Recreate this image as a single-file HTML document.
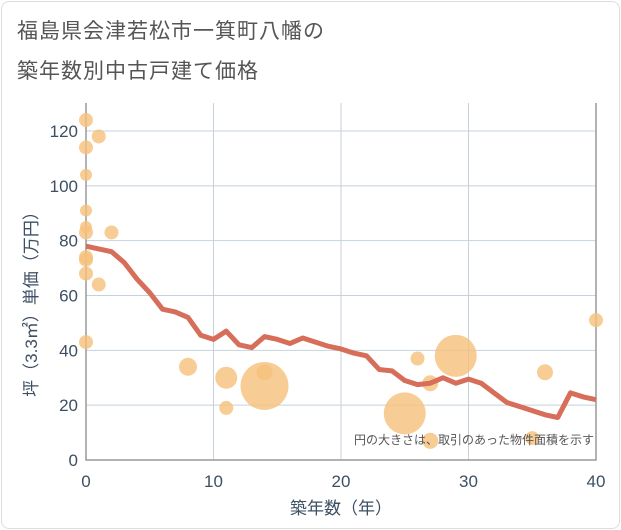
<!DOCTYPE html>
<html><head><meta charset="utf-8"><style>
body{margin:0;background:#fff;}
#c{position:relative;width:621px;height:530px;font-family:"Liberation Sans","Noto Sans CJK JP",sans-serif;}
.t{position:absolute;left:17px;font-size:21px;color:#555;letter-spacing:1px;}
</style></head><body>
<div id="c">
<div style="position:absolute;left:1px;top:1px;width:617px;height:526px;border:1px solid #ddd;border-radius:8px;"></div>
<div class="t" style="top:15px">福島県会津若松市一箕町八幡の</div>
<div class="t" style="top:55px">築年数別中古戸建て価格</div>
<svg id="s" width="621" height="530" style="position:absolute;left:0;top:0"></svg>
</div>
<script>
const xTicks=[0,10,20,30,40];
const yTicks=[0,20,40,60,80,100,120];
const ptX=[0,1,0,0,0,0,0,2,0,0,0,1,0,8,11,11,14,14,25,26,27,27,29,36,35,40];
const ptY=[124,118,114,104,91,85,83,83,74,73,68,64,43,34,30,19,27,32,17,37,28,7,38,32,8,51];
const ptR=[7,7,7,6,6,6,7,7,7,7,7,7,7,9,11,7,24,8,21,7,8,8,21,8,7,7];
const lineX=[0,1,2,3,4,5,6,7,8,9,10,11,12,13,14,15,16,17,18,19,20,21,22,23,24,25,26,27,28,29,30,31,32,33,34,35,36,37,38,39,40];
const lineY=[78,77,76,72,66,61,55,54,52,45.5,44,47,42,41,45,44,42.5,44.5,43,41.5,40.5,39,38,33,32.5,29,27.5,28,30,28,29.5,28,24.5,21,19.5,18,16.5,15.5,24.5,23,22];
const X0=86,X1=596,Y0=460,Y1=131;
const sx=v=>X0+(X1-X0)*v/40, sy=v=>Y0-(Y0-Y1)*v/120;
const s=document.getElementById('s'),NS='http://www.w3.org/2000/svg';
function mk(t,a,p){const e=document.createElementNS(NS,t);for(const k in a)e.setAttribute(k,a[k]);(p||s).appendChild(e);return e;}
const tc='#3d4f63';
xTicks.forEach(v=>{const g=mk('line',{x1:sx(v),x2:sx(v),y1:103,y2:Y0,stroke:'#c5d2de','stroke-width':1});


const t=mk('text',{x:sx(v),y:487,'text-anchor':'middle','font-size':17,fill:tc});t.textContent=v;

});
yTicks.forEach(v=>{const g=mk('line',{x1:X0,x2:X1,y1:sy(v),y2:sy(v),stroke:'#c5d2de','stroke-width':1});


const t=mk('text',{x:78,y:sy(v)+6,'text-anchor':'end','font-size':17,fill:tc});t.textContent=v;

});
const ax=mk('path',{d:`M${X0} 103V${Y0}H${X1}V103`,fill:'none',stroke:'#999','stroke-width':1.5});


ptX.forEach((v,i)=>{const c=mk('circle',{cx:sx(v),cy:sy(ptY[i]),r:ptR[i],fill:'#f5c17a','fill-opacity':0.8});

});
const pl=mk('polyline',{points:lineX.map((v,i)=>sx(v)+','+sy(lineY[i])).join(' '),fill:'none',stroke:'#d66e5a','stroke-width':5,'stroke-linejoin':'round'});


const n=mk('text',{x:594,y:444,'text-anchor':'end','font-size':12,fill:'#555'});n.textContent='円の大きさは、取引のあった物件面積を示す';


const xt=mk('text',{x:341,y:514,'text-anchor':'middle','font-size':17,fill:tc});xt.textContent='築年数（年）';


const yt=mk('text',{x:0,y:0,'text-anchor':'middle','font-size':17,fill:tc,transform:'translate(37,300) rotate(-90)'});yt.textContent='坪（3.3㎡）単価（万円）';


</script>
</body></html>
